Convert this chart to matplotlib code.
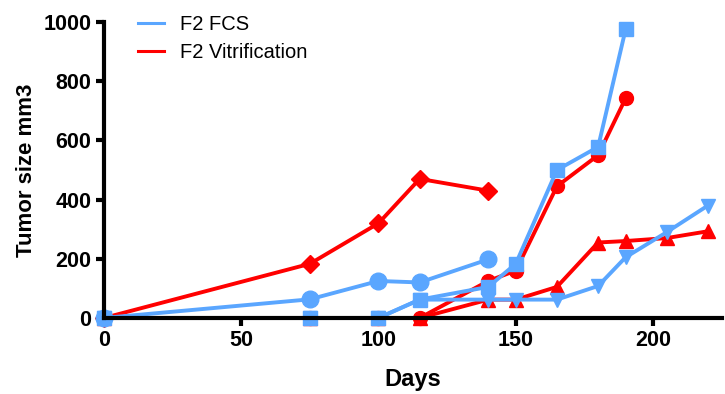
import matplotlib
matplotlib.use("Agg")
import matplotlib.pyplot as plt

plt.rcParams['font.family'] = ['Liberation Sans', 'DejaVu Sans']

blue = "#5AA6FF"
red = "#FF0000"

# F2 FCS mice
fcs_circle_days = [0, 75, 100, 115, 140]
fcs_circle_vals = [0, 63, 125, 120, 198]
fcs_square_days = [0, 75, 100, 115, 140, 150, 165, 180, 190]
fcs_square_vals = [0, 0, 0, 62, 105, 183, 500, 578, 975]
fcs_tri_days = [0, 75, 100, 115, 140, 150, 165, 180, 190, 205, 220]
fcs_tri_vals = [0, 0, 0, 62, 62, 62, 62, 108, 205, 290, 380]

# F2 Vitrification mice
vit_diamond_days = [0, 75, 100, 115, 140]
vit_diamond_vals = [0, 183, 320, 470, 430]
vit_circle_days = [0, 75, 100, 115, 140, 150, 165, 180, 190]
vit_circle_vals = [0, 0, 0, 0, 125, 160, 445, 550, 742]
vit_tri_days = [0, 75, 100, 115, 140, 150, 165, 180, 190, 205, 220]
vit_tri_vals = [0, 0, 0, 0, 62, 62, 105, 255, 260, 270, 293]

fig = plt.figure(figsize=(7.25, 3.94), dpi=100)
ax = fig.add_axes([0.1434, 0.193, 0.852, 0.751])

lw = 2.8
kw = dict(linewidth=lw, clip_on=False)
ax.plot(vit_diamond_days, vit_diamond_vals, color=red, marker="D", markersize=9, **kw)
ax.plot(vit_tri_days, vit_tri_vals, color=red, marker="^", markersize=10, **kw)
ax.plot(vit_circle_days, vit_circle_vals, color=red, marker="o", markersize=10, **kw)
ax.plot(fcs_tri_days, fcs_tri_vals, color=blue, marker="v", markersize=10, **kw)
ax.plot(fcs_square_days, fcs_square_vals, color=blue, marker="s", markersize=9.5, **kw)
ax.plot(fcs_circle_days, fcs_circle_vals, color=blue, marker="o", markersize=12, **kw)

ax.plot([], [], color=blue, linewidth=2.2, label="F2 FCS")
ax.plot([], [], color=red, linewidth=2.2, label="F2 Vitrification")

ax.set_xlim(0, 225)
ax.set_ylim(0, 1000)
ax.set_xticks([0, 50, 100, 150, 200])
ax.set_yticks([0, 200, 400, 600, 800, 1000])

for s in ["top", "right"]:
    ax.spines[s].set_visible(False)
for s in ["left", "bottom"]:
    ax.spines[s].set_linewidth(3)
ax.tick_params(width=3, length=6, labelsize=15.5, pad=3)
for lab in ax.get_xticklabels() + ax.get_yticklabels():
    lab.set_fontweight("bold")

ax.set_xlabel("Days", fontsize=17, fontweight="bold", labelpad=12)
ax.set_ylabel("Tumor size mm3", fontsize=16, fontweight="bold", labelpad=5)

ax.legend(loc="upper left", bbox_to_anchor=(0.025, 1.085), frameon=False,
          fontsize=14.5, handlelength=1.3, handletextpad=0.8, labelspacing=0.45)

fig.savefig("out.png", dpi=100)
